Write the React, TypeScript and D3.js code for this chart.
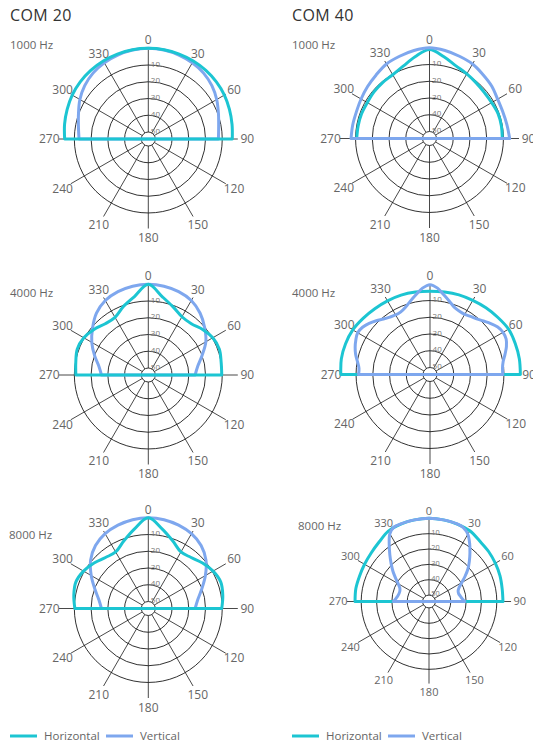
import React from "react";
import * as d3 from "d3";

// ---------- data ----------
const angles10 = [-90, -80, -70, -60, -50, -40, -30, -20, -10, 0, 10, 20, 30, 40, 50, 60, 70, 80, 90];
const angles5 = [
  -90, -85, -80, -75, -70, -65, -60, -55, -50, -45, -40, -35, -30, -25, -20, -15, -10, -5, 0,
  5, 10, 15, 20, 25, 30, 35, 40, 45, 50, 55, 60, 65, 70, 75, 80, 85, 90,
];

const ringLevels = [-10, -20, -30, -40, -50];
const spokeAngles = [0, 30, 60, 90, 120, 150, 180, 210, 240, 270, 300, 330];

const com20_1000_h = [-4.2, -3.4, -2.6, -1.7, -1.1, -0.7, -0.4, -0.2, 0, 0, 0, -0.2, -0.4, -0.7, -1.1, -1.7, -2.6, -3.4, -4.0];
const com20_1000_v = [-12.8, -11.8, -9.8, -7.0, -4.6, -2.8, -1.6, -0.8, -0.2, 0, -0.2, -0.8, -1.6, -2.8, -4.6, -7.0, -9.6, -11.5, -12.3];
const com40_1000_h = [-10.7, -10.9, -11.0, -11.3, -10.9, -10.6, -10.2, -8.2, -4.6, -1.0, -4.6, -8.0, -9.6, -10.8, -11.4, -11.3, -10.6, -10.6, -10.7];
const com40_1000_v = [-7.3, -7.6, -7.7, -7.0, -5.9, -4.6, -2.8, -1.9, -0.8, 0, -0.8, -1.9, -2.8, -4.4, -5.6, -7.2, -7.6, -7.2, -6.3];

const com20_4000_h = [-10.9, -10.2, -9.0, -9.7, -11.8, -14.2, -14.4, -10.7, -6.6, 0, -6.6, -10.9, -14.0, -14.2, -11.8, -9.7, -9.0, -10.0, -10.3];
const com20_4000_v = [-26.2, -24.2, -20.0, -15.2, -10.7, -6.0, -2.8, -1.2, -0.3, 0, -0.3, -1.2, -2.8, -6.0, -10.2, -14.5, -20.0, -24.2, -26.2];
const com40_4000_h = [-0.9, -0.4, -0.5, -0.9, -2.0, -2.9, -3.4, -3.7, -4.2, -4.5, -4.2, -3.6, -3.1, -2.2, -1.2, 0, 0, 0, -0.2];
const com40_4000_v = [
  -11.5, -11.6, -10.2, -8.2, -6.6, -5.3, -4.3, -5.0, -6.7, -8.8, -10.9, -12.3, -13.1, -12.9, -11.4, -8.8, -5.8, -2.4, -0.5,
  -2.4, -6.0, -9.0, -11.5, -12.5, -12.7, -11.8, -10.8, -9.0, -6.8, -4.8, -3.8, -4.0, -5.6, -7.8, -9.8, -10.7, -10.7,
];

const com20_8000_h = [-10.3, -9.0, -8.1, -9.5, -11.9, -14.4, -15.2, -11.3, -6.0, 0, -6.0, -11.3, -15.2, -14.4, -11.9, -9.5, -8.1, -9.0, -10.3];
const com20_8000_v = [-26.2, -24.2, -20.2, -14.8, -9.2, -5.1, -2.6, -1.2, -0.3, 0, -0.3, -1.2, -2.6, -5.1, -9.2, -14.8, -20.2, -24.2, -26.2];
const com40_8000_h = [-6.0, -5.8, -6.0, -5.7, -5.0, -3.6, -1.2, -0.5, -0.2, 0, -0.2, -0.5, -1.0, -2.8, -3.5, -4.3, -5.0, -5.8, -6.0];
const com40_8000_v = [
  -31.0, -32.5, -33.5, -34.0, -34.0, -33.2, -31.0, -27.6, -23.5, -19.3, -14.5, -9.0, -3.2, -0.6, -0.4, -0.3, -0.2, 0, 0,
  0, -0.2, -0.3, -0.4, -1.2, -3.6, -8.0, -12.7, -17.0, -21.0, -25.5, -29.5, -32.5, -34.0, -34.2, -33.5, -32.5, -30.8,
];

const seriesNames = ["Horizontal", "Vertical"];
const modelNames = ["COM 20", "COM 40"];
const freqLabels = ["1000 Hz", "4000 Hz", "8000 Hz"];

const CYAN = "#1cc5d2";
const BLUE = "#7ea7ee";
const FONT = "'Open Sans', 'DejaVu Sans', sans-serif";

type Curve = { angles: number[]; values: number[] };

interface PolarProps {
  cx: number;
  cy: number;
  s: number;
  h: Curve;
  v: Curve;
  blueOnTop: boolean;
}

function Polar({ cx, cy, s, h, v, blueOnTop }: PolarProps) {
  const r = d3.scaleLinear().domain([-50, 0]).range([7 * s, 90.7 * s]);
  const R = 89.5 * s;
  const labelR = 99 * s;
  const line = d3
    .lineRadial<[number, number]>()
    .angle((d) => (d[0] * Math.PI) / 180)
    .radius((d) => r(d[1]))
    .curve(d3.curveCatmullRom.alpha(0.5));
  const pathOf = (c: Curve) =>
    (line(c.angles.map((a, i) => [a, c.values[i]] as [number, number])) || "") + "Z";

  const hPath = <path d={pathOf(h)} fill="none" stroke={CYAN} strokeWidth={3} strokeLinejoin="round" />;
  const vPath = <path d={pathOf(v)} fill="none" stroke={BLUE} strokeWidth={3} strokeLinejoin="round" />;

  return (
    <g transform={`translate(${cx},${cy})`}>
      {ringLevels.slice(0, 4).map((db) => (
        <circle key={db} r={r(db)} fill="none" stroke="#1a1a1a" strokeWidth={0.9} />
      ))}
      {spokeAngles.map((a) => {
        const rad = (a * Math.PI) / 180;
        const r0 = r(-50);
        return (
          <line
            key={a}
            x1={r0 * Math.sin(rad)}
            y1={-r0 * Math.cos(rad)}
            x2={R * Math.sin(rad)}
            y2={-R * Math.cos(rad)}
            stroke="#1a1a1a"
            strokeWidth={0.8}
          />
        );
      })}
      <circle r={r(-50)} fill="#fff" stroke="#1a1a1a" strokeWidth={0.9} />
      {ringLevels.map((db) => (
        <text
          key={db}
          x={0}
          y={-r(db) + 1.5 * s}
          fontSize={8 * s}
          fill="#777"
          fontFamily={FONT}
        >
          {db}
        </text>
      ))}
      {spokeAngles.map((a) => {
        const rad = (a * Math.PI) / 180;
        return (
          <text
            key={a}
            x={labelR * Math.sin(rad)}
            y={-labelR * Math.cos(rad)}
            dy="0.36em"
            textAnchor="middle"
            fontSize={12 * s}
            fill="#666"
            fontFamily={FONT}
          >
            {a}
          </text>
        );
      })}
      {blueOnTop ? (
        <>
          {hPath}
          {vPath}
        </>
      ) : (
        <>
          {vPath}
          {hPath}
        </>
      )}
    </g>
  );
}

function Legend({ x, y }: { x: number; y: number }) {
  return (
    <g transform={`translate(${x},${y})`}>
      <line x1={0} x2={27} y1={0} y2={0} stroke={CYAN} strokeWidth={3} />
      <text x={34} y={4} fontSize={11.5} fill="#666" fontFamily={FONT}>
        {seriesNames[0]}
      </text>
      <line x1={96} x2={123} y1={0} y2={0} stroke={BLUE} strokeWidth={3} />
      <text x={130} y={4} fontSize={11.5} fill="#666" fontFamily={FONT}>
        {seriesNames[1]}
      </text>
    </g>
  );
}

export default function App() {
  const c = (angles: number[], values: number[]): Curve => ({ angles, values });
  return (
    <svg
      width={533}
      height={742}
      style={{ position: "absolute", left: 0, top: 0, background: "#fff" }}
    >
      <text x={10} y={21} fontSize={16} fill="#333" fontFamily={FONT} letterSpacing={0.4}>
        {modelNames[0]}
      </text>
      <text x={292} y={21} fontSize={16} fill="#333" fontFamily={FONT} letterSpacing={0.4}>
        {modelNames[1]}
      </text>

      <text x={10} y={49} fontSize={11.5} fill="#666" fontFamily={FONT}>{freqLabels[0]}</text>
      <text x={292} y={49} fontSize={11.5} fill="#666" fontFamily={FONT}>{freqLabels[0]}</text>
      <text x={10} y={297} fontSize={11.5} fill="#666" fontFamily={FONT}>{freqLabels[1]}</text>
      <text x={292} y={297} fontSize={11.5} fill="#666" fontFamily={FONT}>{freqLabels[1]}</text>
      <text x={9} y={539} fontSize={11.5} fill="#666" fontFamily={FONT}>{freqLabels[2]}</text>
      <text x={298} y={530} fontSize={11.5} fill="#666" fontFamily={FONT}>{freqLabels[2]}</text>

      <Polar cx={148.3} cy={139} s={1} h={c(angles10, com20_1000_h)} v={c(angles10, com20_1000_v)} blueOnTop={false} />
      <Polar cx={429.5} cy={138.5} s={1} h={c(angles10, com40_1000_h)} v={c(angles10, com40_1000_v)} blueOnTop={true} />
      <Polar cx={148.3} cy={375} s={1} h={c(angles10, com20_4000_h)} v={c(angles10, com20_4000_v)} blueOnTop={false} />
      <Polar cx={430} cy={374.5} s={1} h={c(angles10, com40_4000_h)} v={c(angles5, com40_4000_v)} blueOnTop={true} />
      <Polar cx={148.3} cy={608.5} s={1} h={c(angles10, com20_8000_h)} v={c(angles10, com20_8000_v)} blueOnTop={false} />
      <Polar cx={429} cy={601.5} s={0.917} h={c(angles10, com40_8000_h)} v={c(angles5, com40_8000_v)} blueOnTop={true} />

      <Legend x={10} y={736} />
      <Legend x={292} y={736} />
    </svg>
  );
}
